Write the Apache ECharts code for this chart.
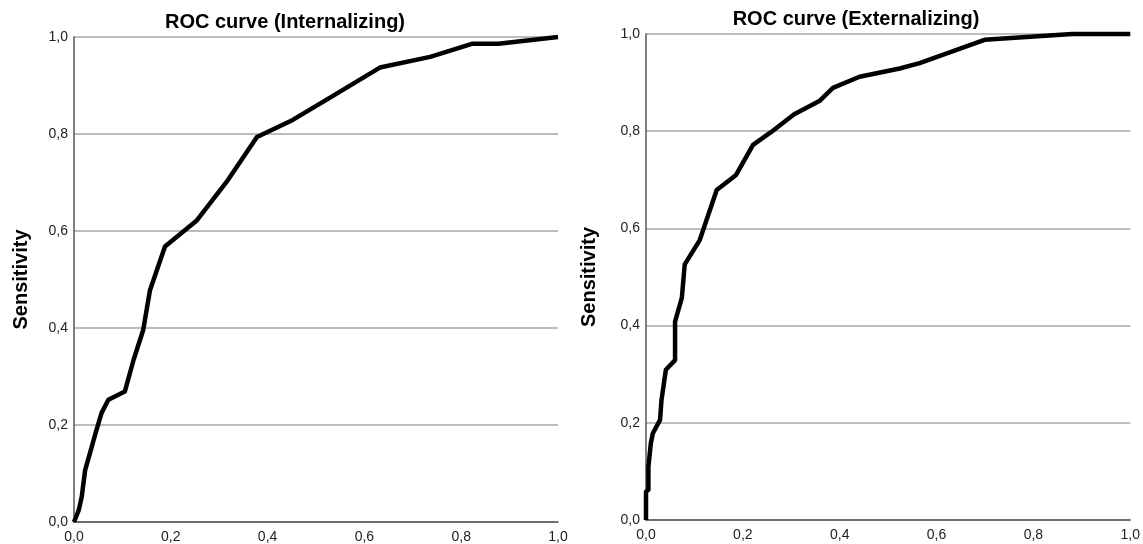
<!DOCTYPE html>
<html>
<head>
<meta charset="utf-8">
<script src="https://cdn.jsdelivr.net/npm/echarts@6/dist/echarts.min.js"></script>
<style>
html,body{margin:0;padding:0;background:#fff;}
#chart{width:1143px;height:544px;}
</style>
</head>
<body>
<div id="chart"></div>
<script>
const titles = ['ROC curve (Internalizing)', 'ROC curve (Externalizing)'];
const yAxisName = 'Sensitivity';
const tickLabels = ['0,0', '0,2', '0,4', '0,6', '0,8', '1,0'];

const intFPR = [0, 0.01, 0.016, 0.023, 0.033, 0.045, 0.057, 0.071, 0.105, 0.123, 0.143, 0.157, 0.188, 0.253, 0.318, 0.378, 0.452, 0.529, 0.632, 0.736, 0.822, 0.877, 1.0];
const intTPR = [0, 0.025, 0.052, 0.107, 0.142, 0.185, 0.225, 0.252, 0.269, 0.334, 0.396, 0.478, 0.568, 0.621, 0.705, 0.794, 0.829, 0.875, 0.937, 0.959, 0.986, 0.986, 1.0];

const extFPR = [0, 0, 0.005, 0.005, 0.01, 0.014, 0.029, 0.032, 0.032, 0.041, 0.06, 0.06, 0.074, 0.08, 0.111, 0.146, 0.186, 0.221, 0.258, 0.306, 0.358, 0.386, 0.441, 0.524, 0.565, 0.699, 0.88, 1.0];
const extTPR = [0, 0.058, 0.062, 0.11, 0.158, 0.178, 0.206, 0.209, 0.247, 0.309, 0.329, 0.408, 0.457, 0.526, 0.576, 0.679, 0.71, 0.772, 0.798, 0.835, 0.862, 0.889, 0.912, 0.929, 0.94, 0.988, 1.0, 1.0];

const FONT = '"Liberation Sans", Arial, sans-serif';
const fmt = v => tickLabels[Math.round(v / 0.2)];

function xAxis(gi) {
  return {
    type: 'value', gridIndex: gi, min: 0, max: 1, interval: 0.2,
    axisLine: { show: true, lineStyle: { color: '#555', width: 1.5 } },
    axisTick: { show: false },
    splitLine: { show: false },
    axisLabel: { formatter: fmt, color: '#222', fontSize: 14, fontFamily: FONT, margin: 8 }
  };
}
function yAxis(gi, gap) {
  return {
    type: 'value', gridIndex: gi, min: 0, max: 1, interval: 0.2,
    name: yAxisName, nameLocation: 'middle', nameGap: gap,
    nameTextStyle: { fontSize: 20, fontWeight: 'bold', color: '#000', fontFamily: FONT },
    axisLine: { show: true, lineStyle: { color: '#555', width: 1.5 } },
    axisTick: { show: false },
    splitLine: { show: true, lineStyle: { color: '#a6a6a6', width: 1.5 } },
    axisLabel: { formatter: fmt, color: '#222', fontSize: 14, fontFamily: FONT, margin: 6 }
  };
}
function line(gi, xs, ys) {
  return {
    type: 'line', xAxisIndex: gi, yAxisIndex: gi,
    data: xs.map((x, i) => [x, ys[i]]),
    showSymbol: false, symbol: 'none', clip: false,
    lineStyle: { color: '#000', width: 4.5, join: 'round' },
    animation: false
  };
}

const chart = echarts.init(document.getElementById('chart'), null, { renderer: 'canvas' });
chart.setOption({
  animation: false,
  backgroundColor: '#fff',
  title: [
    { text: titles[0], left: 280, textAlign: 'center', top: 7,
      textStyle: { fontSize: 20, fontWeight: 'bold', color: '#000', fontFamily: FONT } },
    { text: titles[1], left: 851, textAlign: 'center', top: 4,
      textStyle: { fontSize: 20, fontWeight: 'bold', color: '#000', fontFamily: FONT } }
  ],
  grid: [
    { left: 74, right: 585, top: 37, bottom: 22 },
    { left: 646, right: 12, top: 34, bottom: 24 }
  ],
  xAxis: [xAxis(0), xAxis(1)],
  yAxis: [yAxis(0, 43), yAxis(1, 47)],
  series: [line(0, intFPR, intTPR), line(1, extFPR, extTPR)]
});
</script>
</body>
</html>
